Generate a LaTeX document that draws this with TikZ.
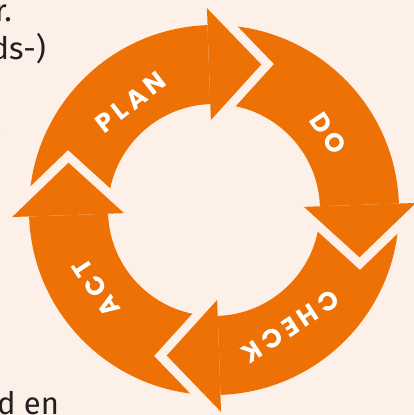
\documentclass[tikz,border=0pt]{standalone}
\usepackage{fontspec}
\setmainfont{Fira Sans}
\newfontfamily\pdcafont{Poppins}[LetterSpace=18]
\usetikzlibrary{calc}
\definecolor{pdcaorange}{RGB}{237,113,5}
\definecolor{pdcapaper}{RGB}{253,240,232}
\definecolor{pdcatext}{RGB}{35,31,32}
\def\pdcahead(#1){%
	\fill[pdcapaper] (#1:202) -- ($(#1:202)+({#1-90}:12.5)$) -- ($({#1-20}:153)+({#1-90}:12.5)$) -- ($(#1:90)+({#1-90}:12.5)$) -- (#1:90) -- cycle;
	\fill[pdcaorange] (#1:202) -- ({#1-20}:153) -- (#1:90) -- cycle;}

\begin{document}
\begin{tikzpicture}[x=1pt,y=1pt,
		pdcalabel/.style={text=white,font=\pdcafont\bfseries\fontsize{26}{26}\selectfont,inner sep=0pt},
		margintext/.style={text=pdcatext,font=\fontsize{31}{31}\selectfont,inner sep=0pt}]
				\fill[pdcapaper] (-214,-205) rectangle (200,210);
				\useasboundingbox (-214,-205) rectangle (200,210);
				\clip (-214,-205) rectangle (200,210);
				
				\node[margintext,anchor=base east] (line1) at (-202,188) {r.};
				\node[margintext,anchor=base east] (line2) at (-168,150) {ds-)};
				\node[margintext,anchor=base east] (line4) at (-212,72) {.};
				\node[margintext,anchor=base west] (line9) at (-217,-204) {d en};
				
				\fill[pdcaorange,even odd rule] (0,0) circle (185) (0,0) circle (106);
				
				\pdcahead(92)
				\pdcahead(2)
				\pdcahead(-88)
				\pdcahead(-178)
				
				\node[pdcalabel,rotate=37.8] (plan) at (127.8:136) {PLAN};
				\node[pdcalabel,rotate=-56.1] (do) at (33.9:137.5) {DO};
				\node[pdcalabel,rotate=-146.7] (check) at (-56.7:139.5) {CHECK};
				\node[pdcalabel,rotate=123.5] (act) at (213.5:141.5) {ACT};
\end{tikzpicture}
\end{document}
